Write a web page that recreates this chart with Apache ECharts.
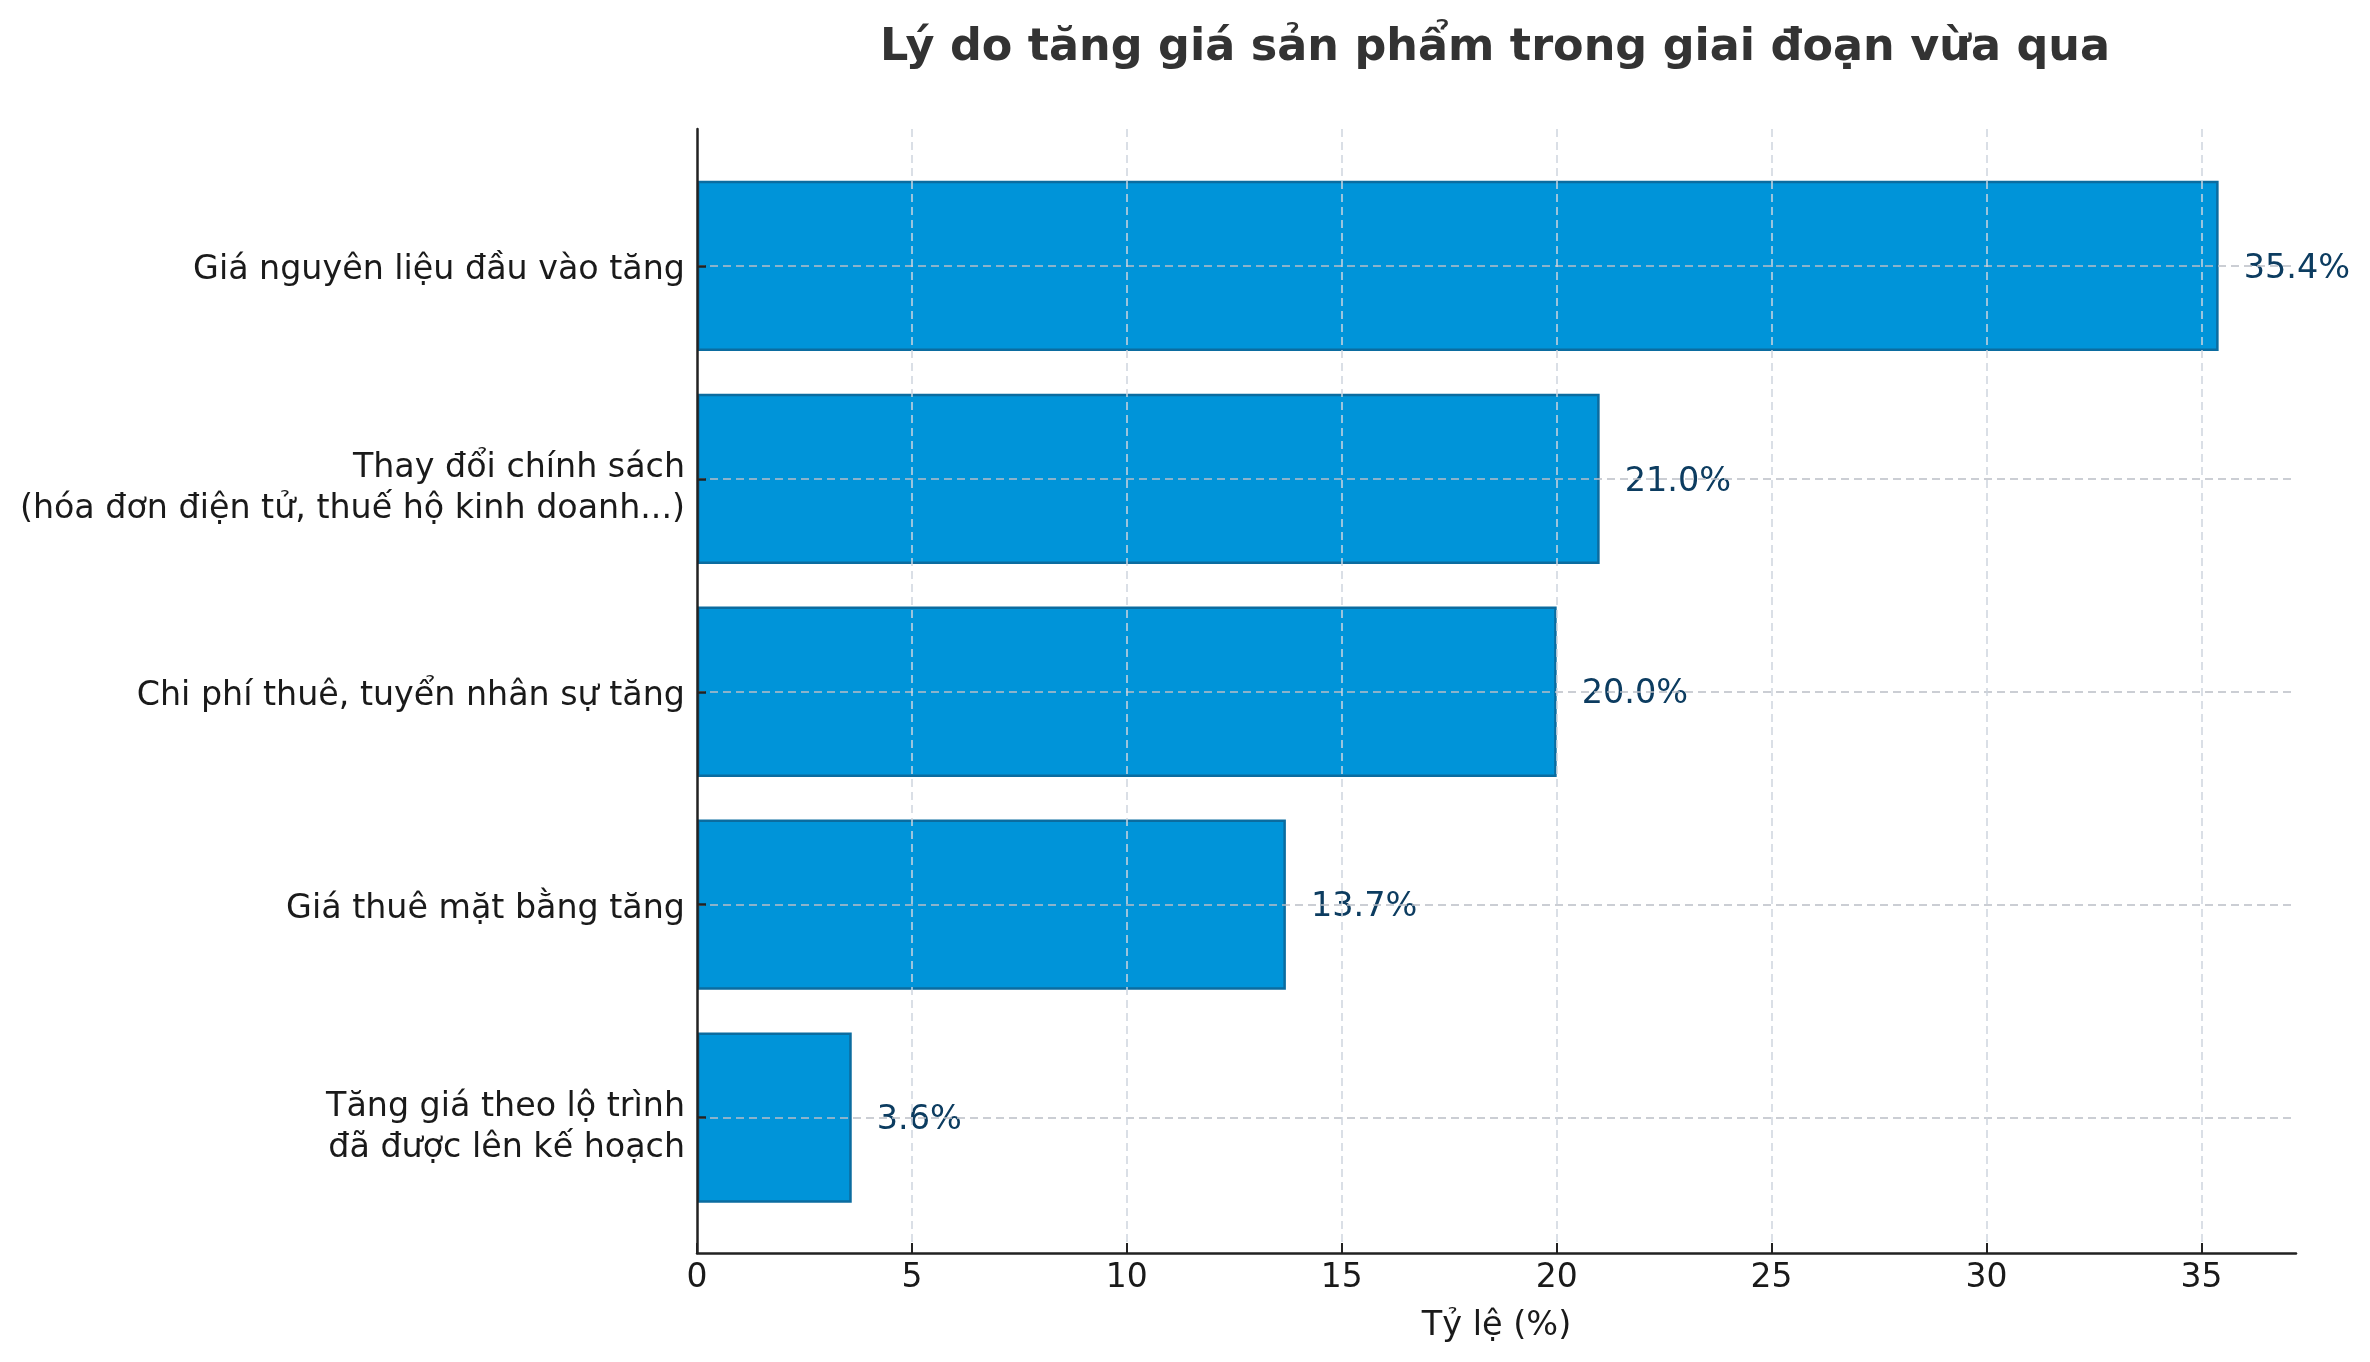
<!DOCTYPE html>
<html>
<head>
<meta charset="utf-8">
<script src="https://cdn.jsdelivr.net/npm/echarts@6/dist/echarts.min.js"></script>
<style>
html,body{margin:0;padding:0;background:#fff;}
#chart{width:2370px;height:1362px;}
</style>
</head>
<body>
<div id="chart"></div>
<script>
const titleText = 'Lý do tăng giá sản phẩm trong giai đoạn vừa qua';
const xAxisName = 'Tỷ lệ (%)';
const categories = [
  'Giá nguyên liệu đầu vào tăng',
  'Thay đổi chính sách\n(hóa đơn điện tử, thuế hộ kinh doanh...)',
  'Chi phí thuê, tuyển nhân sự tăng',
  'Giá thuê mặt bằng tăng',
  'Tăng giá theo lộ trình\nđã được lên kế hoạch'
];
const values = [35.4, 21.0, 20.0, 13.7, 3.6];
const xMin = 0;
const xMax = 37.2;
const xInterval = 5;

const FONT = 'DejaVu Sans';
const chart = echarts.init(document.getElementById('chart'), null, {renderer: 'canvas'});

const option = {
  backgroundColor: '#ffffff',
  animation: false,
  title: {
    text: titleText,
    left: 1490,
    textAlign: 'center',
    top: 21,
    textStyle: {fontFamily: FONT, fontSize: 44.5, fontWeight: 'bold', color: '#333333'}
  },
  grid: [
    {left: 697, right: 74, top: 129, bottom: 109, containLabel: false},
    {left: 697, right: 74, top: 159.5, bottom: 138, containLabel: false}
  ],
  xAxis: [
    {
      gridIndex: 0, type: 'value', min: xMin, max: xMax, interval: xInterval,
      z: 6,
      name: xAxisName, nameLocation: 'middle', nameGap: 56,
      nameTextStyle: {fontFamily: FONT, fontSize: 33.5, color: '#1a1a1a'},
      axisLine: {show: true, lineStyle: {color: '#222222', width: 2.5}},
      axisTick: {show: true, inside: true, length: 10, lineStyle: {color: '#222222', width: 2}},
      axisLabel: {fontFamily: FONT, fontSize: 33, color: '#1a1a1a', margin: 9,
        showMaxLabel: false},
      splitLine: {show: true, showMinLine: false, showMaxLine: false,
        lineStyle: {color: 'rgba(205,212,222,0.75)', width: 2, type: [8, 5]}}
    },
    {
      gridIndex: 1, type: 'value', min: xMin, max: xMax, show: false
    }
  ],
  yAxis: [
    {
      gridIndex: 0, type: 'value', min: 0, max: 1, z: 7,
      axisLine: {show: true, lineStyle: {color: '#222222', width: 2.5}},
      axisTick: {show: false}, axisLabel: {show: false}, splitLine: {show: false}
    },
    {
      gridIndex: 1, type: 'category', data: categories, inverse: true, z: 7,
      axisLine: {show: false},
      axisTick: {show: true, inside: true, alignWithLabel: true, length: 9,
        lineStyle: {color: '#222222', width: 2.5}},
      axisLabel: {
        fontFamily: FONT, fontSize: 33.3, color: '#1a1a1a', margin: 12,
        lineHeight: 42, align: 'right', padding: [9, 0, 0, 0],
        formatter: v => v.indexOf('\n') >= 0
          ? '{s| }\n' + v.split('\n').map(l => '{m|' + l + '}').join('\n')
          : v,
        rich: {
          s: {fontSize: 2, lineHeight: 12},
          m: {fontFamily: FONT, fontSize: 33.3, color: '#1a1a1a', lineHeight: 41}
        }
      },
      splitLine: {show: false}
    }
  ],
  series: [
    {
      type: 'bar',
      xAxisIndex: 1, yAxisIndex: 1,
      data: values,
      barWidth: '80%',
      itemStyle: {color: '#0094D9', borderColor: '#0B6CA0', borderWidth: 2.5},
      label: {
        show: true, position: 'right', distance: 25, offset: [0, 3],
        fontFamily: FONT, fontSize: 33.5, color: '#0c3c60',
        formatter: p => p.value.toFixed(1) + '%'
      },
      markLine: {
        silent: true, symbol: 'none', z: 5,
        label: {show: false},
        lineStyle: {color: 'rgba(185,190,198,0.75)', width: 2, type: [8, 5]},
        data: categories.map(c => ({yAxis: c}))
      }
    }
  ]
};
chart.setOption(option);
</script>
</body>
</html>
